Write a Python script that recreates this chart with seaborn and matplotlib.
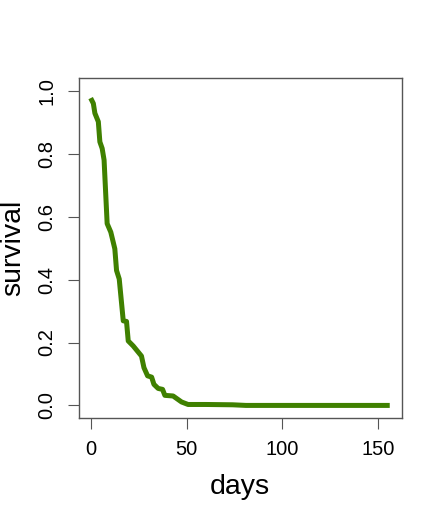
import matplotlib
matplotlib.use("Agg")
import matplotlib.pyplot as plt
import seaborn as sns

# survival curve
days = [0, 1.4, 2.2, 4, 4.8, 6, 7, 8.6, 10.5, 12.6, 13.5, 14.9, 17, 18.7, 19.6,
        22.2, 26.5, 27.8, 29.7, 31.8, 33, 35.2, 37.5, 38.7, 43, 47.4, 50.8,
        60, 74, 81, 100, 130, 156]
survival = [0.977, 0.96, 0.929, 0.902, 0.838, 0.817, 0.78, 0.578, 0.551, 0.498,
            0.429, 0.402, 0.269, 0.267, 0.205, 0.189, 0.157, 0.12, 0.094, 0.090,
            0.067, 0.054, 0.051, 0.032, 0.030, 0.011, 0.003,
            0.003, 0.002, 0.0, 0.0, 0.0, 0.0]
x_ticks = [0, 50, 100, 150]
y_ticks = [0.0, 0.2, 0.4, 0.6, 0.8, 1.0]

sns.set_style("white")
plt.rcParams['font.family'] = ['Liberation Sans', 'DejaVu Sans']
plt.rcParams['text.color'] = 'black'
plt.rcParams['xtick.color'] = 'black'
plt.rcParams['ytick.color'] = 'black'
plt.rcParams['axes.labelcolor'] = 'black'

fig = plt.figure(figsize=(4.42, 5.16), dpi=100)
ax = fig.add_axes([78.7 / 442, (516 - 418) / 516, (401.7 - 78.7) / 442, (418 - 78.3) / 516])

sns.lineplot(x=days, y=survival, sort=False, color="#3f8000", linewidth=3.6,
             ax=ax, solid_capstyle="butt")

ax.set_xlim(-6.24, 162.24)
ax.set_ylim(-0.04, 1.04)
ax.set_xticks(x_ticks)
ax.set_xticklabels([str(t) for t in x_ticks], fontsize=14.5)
ax.set_yticks(y_ticks)
ax.set_yticklabels([f"{t:.1f}" for t in y_ticks], fontsize=14.5, rotation=90, va="center")

for s in ax.spines.values():
    s.set_visible(True)
    s.set_color("#555555")
    s.set_linewidth(1.0)

ax.tick_params(axis="both", direction="out", length=8, width=0.8, color="#555555",
               pad=8, bottom=True, left=True)

ax.set_xlabel("days", fontsize=20.5)
ax.set_ylabel("survival", fontsize=20.5)
ax.xaxis.set_label_coords(0.5, -0.165)
ax.yaxis.set_label_coords(-0.162, 0.5)

fig.savefig("out.png", dpi=100)
